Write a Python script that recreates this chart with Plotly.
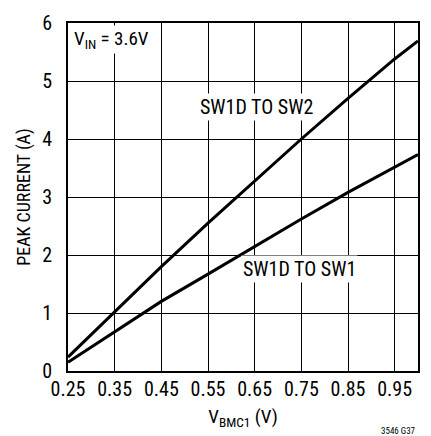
import plotly.graph_objects as go

x_vals = [0.25, 0.35, 0.45, 0.55, 0.65, 0.75, 0.85, 0.95, 1.0]
sw2_vals = [0.24, 1.02, 1.8, 2.55, 3.28, 4.0, 4.7, 5.38, 5.69]
sw1_vals = [0.15, 0.68, 1.2, 1.67, 2.15, 2.62, 3.08, 3.52, 3.73]
x_ticks = [0.25, 0.35, 0.45, 0.55, 0.65, 0.75, 0.85, 0.95]
x_tick_labels = ["0.25", "0.35", "0.45", "0.55", "0.65", "0.75", "0.85", "0.95"]
y_ticks = [0, 1, 2, 3, 4, 5, 6]

FONT = "Roboto Condensed, Liberation Sans Narrow, Arial"

fig = go.Figure()
fig.add_trace(go.Scatter(x=x_vals, y=sw2_vals, mode="lines",
                         line=dict(color="black", width=3), showlegend=False))
fig.add_trace(go.Scatter(x=x_vals, y=sw1_vals, mode="lines",
                         line=dict(color="black", width=3), showlegend=False))

fig.update_layout(
    width=431, height=436,
    margin=dict(l=68, r=11, t=19, b=65),
    paper_bgcolor="white", plot_bgcolor="white",
    font=dict(family=FONT, size=19, color="black"),
    xaxis=dict(range=[0.25, 1.0], tickvals=x_ticks, ticktext=x_tick_labels,
               showgrid=True, gridcolor="black", gridwidth=1,
               showline=True, linecolor="black", linewidth=2, mirror=True,
               ticks="", ticklen=0, zeroline=False, ticklabelstandoff=-1,
               tickfont=dict(size=20),
               title=dict(text="V<sub>BMC1</sub> (V)", standoff=10,
                          font=dict(size=19))),
    yaxis=dict(range=[0, 6], tickvals=y_ticks,
               showgrid=True, gridcolor="black", gridwidth=1,
               showline=True, linecolor="black", linewidth=2, mirror=True,
               ticks="", ticklen=0, zeroline=False, ticklabelstandoff=10,
               tickfont=dict(size=20),
               title=dict(text="PEAK CURRENT (A)", standoff=7,
                          font=dict(size=18))),
    annotations=[
        dict(x=0.01, y=0.995, xref="paper", yref="paper", xanchor="left", yanchor="top",
             text="V<sub>IN</sub> = 3.6V", showarrow=False, bgcolor="white",
             font=dict(size=19)),
        dict(x=0.654, y=4.55, xref="x", yref="y", text="SW1D TO SW2",
             showarrow=False, bgcolor="white", font=dict(size=20)),
        dict(x=0.746, y=1.76, xref="x", yref="y", text="SW1D TO SW1",
             showarrow=False, bgcolor="white", font=dict(size=20)),
        dict(x=1.0, y=0, xref="paper", yref="paper", xanchor="right", yanchor="middle",
             yshift=-60, text="3546 G37", showarrow=False, font=dict(size=9)),
    ],
)

fig.write_html("out.html", config={"displayModeBar": False},
               post_script="document.body.style.margin='0px';document.body.style.overflow='hidden';")
